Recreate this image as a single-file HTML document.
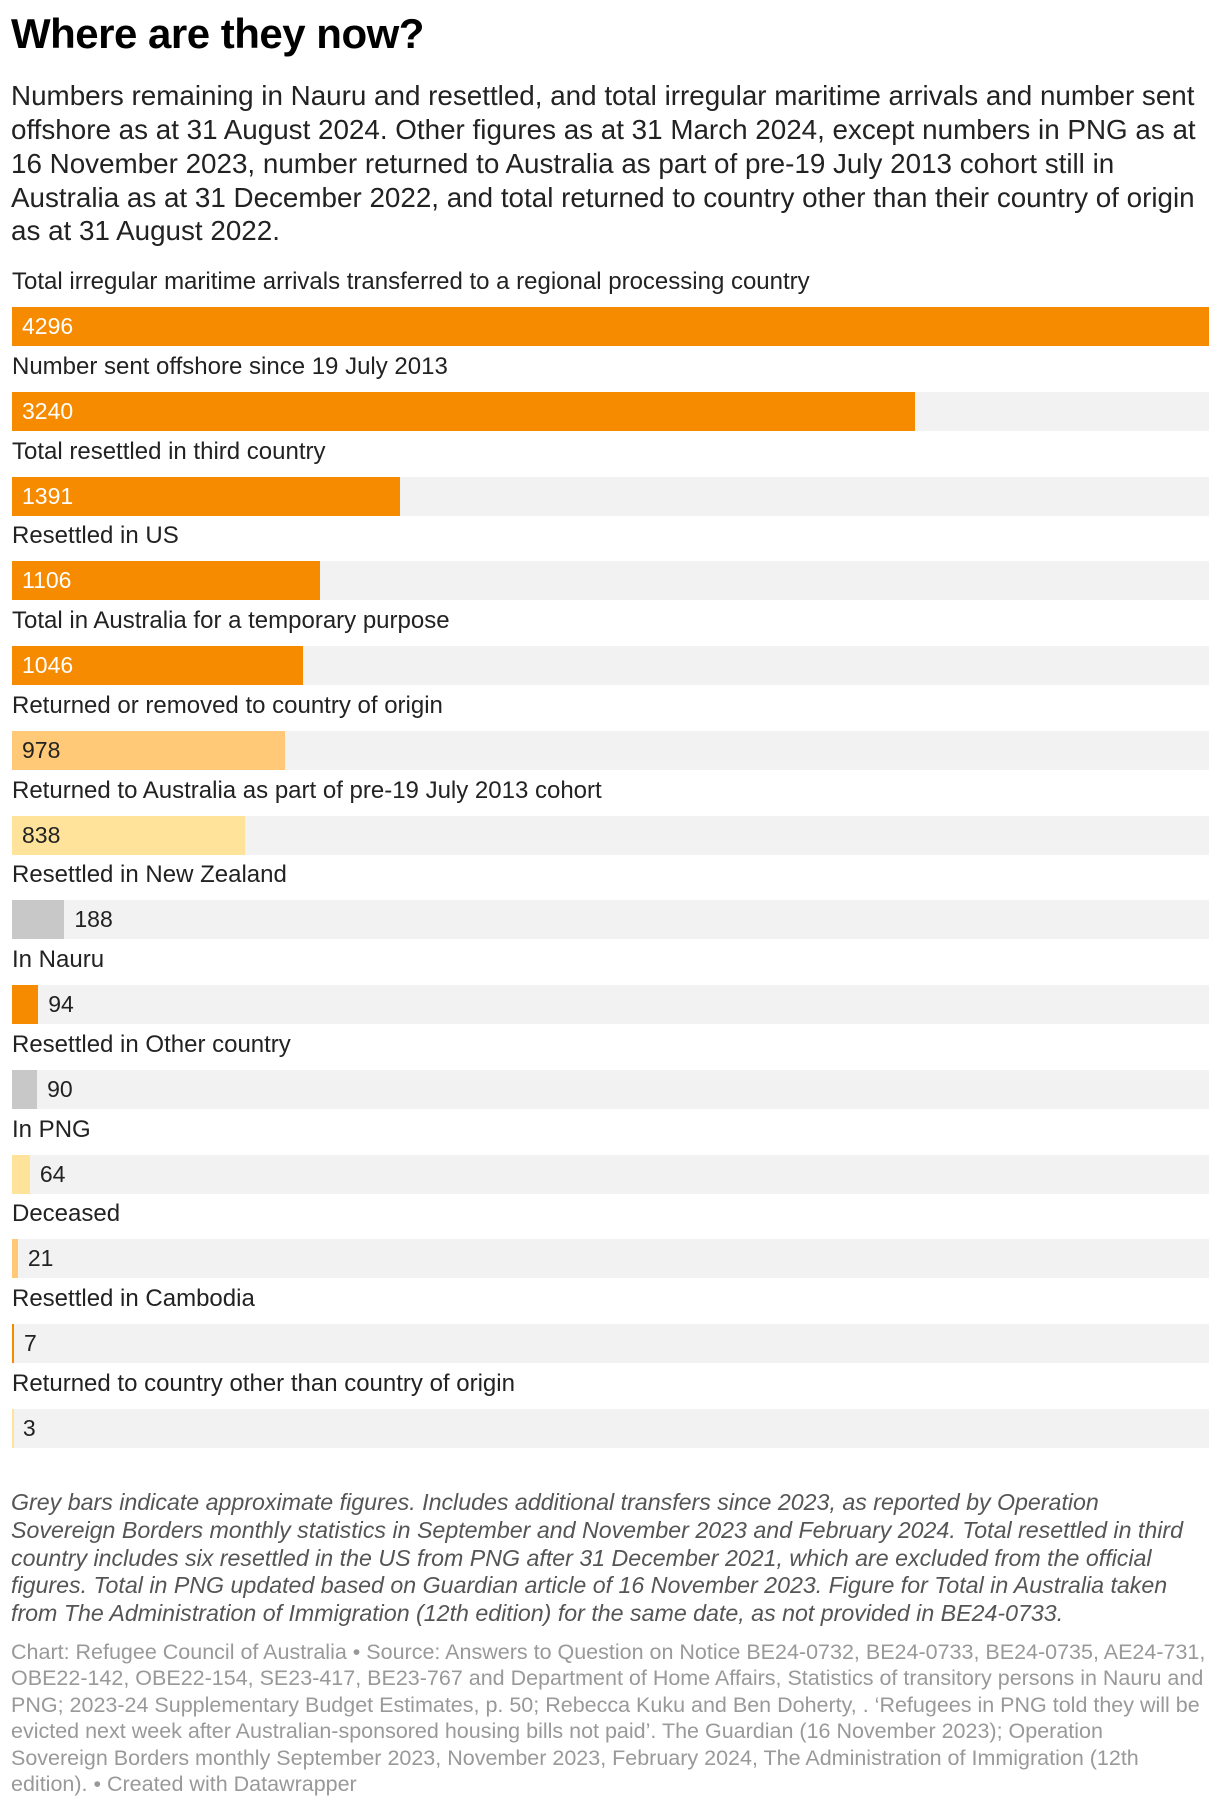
<!DOCTYPE html>
<html><head><meta charset="utf-8">
<style>
body{margin:0;width:1220px;height:1806px;background:#fff;position:relative;font-family:"Liberation Sans",sans-serif;overflow:hidden}
.abs{position:absolute;white-space:nowrap}
#title{left:11px;top:10px;font-size:42px;font-weight:bold;color:#000;letter-spacing:-0.5px}
.sub{left:11px;font-size:27.8px;color:#222}
.lbl{font-size:24px;color:#222;left:12px}
.track{position:absolute;left:12px;width:1197px;height:39px;background:#f2f2f2}
.bar{position:absolute;left:12px;height:39px}
.val{position:absolute;font-size:23px;line-height:39px}
.note{left:11px;font-size:23.2px;font-style:italic;color:#555}
.src{left:11px;font-size:21.5px;color:#999}
</style></head><body>
<div id="title" class="abs">Where are they now?</div>
<div class="abs sub" style="top:80px">Numbers remaining in Nauru and resettled, and total irregular maritime arrivals and number sent</div>
<div class="abs sub" style="top:114px">offshore as at 31 August 2024. Other figures as at 31 March 2024, except numbers in PNG as at</div>
<div class="abs sub" style="top:148px">16 November 2023, number returned to Australia as part of pre-19 July 2013 cohort still in</div>
<div class="abs sub" style="top:182px">Australia as at 31 December 2022, and total returned to country other than their country of origin</div>
<div class="abs sub" style="top:215px">as at 31 August 2022.</div>
<div id="chart"></div>
<div class="abs note" style="top:1489px">Grey bars indicate approximate figures. Includes additional transfers since 2023, as reported by Operation</div>
<div class="abs note" style="top:1517px">Sovereign Borders monthly statistics in September and November 2023 and February 2024. Total resettled in third</div>
<div class="abs note" style="top:1545px">country includes six resettled in the US from PNG after 31 December 2021, which are excluded from the official</div>
<div class="abs note" style="top:1572px">figures. Total in PNG updated based on Guardian article of 16 November 2023. Figure for Total in Australia taken</div>
<div class="abs note" style="top:1600px">from The Administration of Immigration (12th edition) for the same date, as not provided in BE24-0733.</div>
<div class="abs src" style="top:1640px">Chart: Refugee Council of Australia • Source: Answers to Question on Notice BE24-0732, BE24-0733, BE24-0735, AE24-731,</div>
<div class="abs src" style="top:1666px">OBE22-142, OBE22-154, SE23-417, BE23-767 and Department of Home Affairs, Statistics of transitory persons in Nauru and</div>
<div class="abs src" style="top:1693px">PNG; 2023-24 Supplementary Budget Estimates, p. 50; Rebecca Kuku and Ben Doherty, . ‘Refugees in PNG told they will be</div>
<div class="abs src" style="top:1719px">evicted next week after Australian-sponsored housing bills not paid’. The Guardian (16 November 2023); Operation</div>
<div class="abs src" style="top:1746px">Sovereign Borders monthly September 2023, November 2023, February 2024, The Administration of Immigration (12th</div>
<div class="abs src" style="top:1772px">edition). • Created with Datawrapper</div>
<script>
const categories = ["Total irregular maritime arrivals transferred to a regional processing country","Number sent offshore since 19 July 2013","Total resettled in third country","Resettled in US","Total in Australia for a temporary purpose","Returned or removed to country of origin","Returned to Australia as part of pre-19 July 2013 cohort","Resettled in New Zealand","In Nauru","Resettled in Other country","In PNG","Deceased","Resettled in Cambodia","Returned to country other than country of origin"];
const values = [4296,3240,1391,1106,1046,978,838,188,94,90,64,21,7,3];
const colorGroups = ["o","o","o","o","o","lo","y","g","o","g","y","lo","o","y"];
const palette = {o:"#f78b00",lo:"#ffc978",y:"#ffe39b",g:"#c8c8c8"};
const maxV = 4296, W = 1197, top0 = 307, pitch = 84.75;
function xs(v){return v/maxV*W;}
const chart = document.getElementById('chart');
categories.forEach((c,i)=>{
  const y = top0 + i*pitch;
  const lbl = document.createElement('div');
  lbl.className='abs lbl'; lbl.style.top=(y-39)+'px'; lbl.textContent=c;
  
  
  chart.appendChild(lbl);
  const tr = document.createElement('div');
  tr.className='track'; tr.style.top=y+'px';
  
  
  chart.appendChild(tr);
  const w = xs(values[i]);
  const b = document.createElement('div');
  b.className='bar'; b.style.top=y+'px'; b.style.width=Math.max(w,1.5)+'px'; b.style.background=palette[colorGroups[i]];
  
  
  chart.appendChild(b);
  const v = document.createElement('div');
  v.className='val'; v.style.top=y+'px'; v.textContent=values[i];
  
  
  if (w > 80){ v.style.left=(12+10)+'px'; v.style.color = colorGroups[i]==='o' ? '#fff' : '#222'; }
  else { v.style.left=(12+w+10)+'px'; v.style.color='#222'; }
  chart.appendChild(v);
});
</script>
</body></html>
